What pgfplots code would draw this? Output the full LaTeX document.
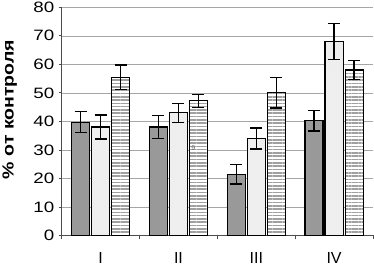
\documentclass[border=0pt]{standalone}
\usepackage{pgfplots}
\pgfplotsset{compat=1.18}
\usepackage{fontspec}
\setmainfont{Liberation Sans}
\newfontfamily\widefont[FakeStretch=1.25]{Liberation Sans}
\newfontfamily\labfont[FakeStretch=1.22]{Liberation Sans Bold}
\usetikzlibrary{patterns.meta}
\definecolor{darkbar}{HTML}{9A9A9A}
\definecolor{lightbar}{HTML}{F0F0F0}
\definecolor{stripe}{HTML}{A0A0A0}
\begin{document}
\begin{tikzpicture}
\begin{axis}[
  scale only axis,
  width=311pt, height=228pt,
  ybar, bar width=18pt,
  xmin=-0.5, xmax=3.5, ymin=0, ymax=80,
  axis lines=left,
  axis line style={-, line width=0.8pt, black!70},
  ytick={0,10,...,80},
  ymajorgrids,
  grid style={gray!70, line width=0.6pt},
  xtick={0,1,2,3},
  xticklabels={I,II,III,IV},
  major x tick style={draw=none},
  minor xtick={-0.5,0.5,1.5,2.5,3.5},
  minor x tick style={black!70, line width=0.8pt},
  minor tick length=4pt,
  y tick style={black!70, line width=0.8pt},
  major tick length=3pt,
  tick align=outside,
  yticklabel style={font=\widefont\fontsize{15}{16}\selectfont, anchor=east, xshift=-1pt},
  xticklabel style={font=\fontsize{16}{17}\selectfont, anchor=north, yshift=-10pt},
  /pgf/number format/assume math mode=true,
  error bars/y dir=both, error bars/y explicit,
  error bars/error mark options={rotate=90, mark size=6pt, line width=1.3pt, black},
  error bars/error bar style={line width=1.3pt, black},
]
\addplot[draw=black, line width=1.2pt, fill=darkbar,
  postaction={pattern={Dots[distance=2pt,radius=0.3pt]}, pattern color=gray!80}]
  coordinates {(0,39.7) +- (0,3.7) (1,38) +- (0,4) (2,21.5) +- (0,3.4) (3,40.2) +- (0,3.6)};
\addplot[draw=black, line width=1.2pt, fill=lightbar,
  postaction={pattern={Dots[distance=2pt,radius=0.3pt]}, pattern color=gray!25}]
  coordinates {(0,38) +- (0,4.2) (1,43) +- (0,3.3) (2,34) +- (0,3.7) (3,68) +- (0,6.3)};
\addplot[draw=black, line width=1.2pt, fill=white,
  postaction={pattern={Lines[distance=3.3pt,line width=1.6pt,angle=0]}, pattern color=stripe}]
  coordinates {(0,55.5) +- (0,4.3) (1,47.2) +- (0,2.3) (2,50) +- (0,5.3) (3,58) +- (0,3.3)};
\node[font=\fontsize{7}{8}\selectfont, gray!80!black] at (axis cs:1.19,30.7) {9};
\coordinate (o) at (rel axis cs:0,0);
\coordinate (t) at (rel axis cs:1,1);
\end{axis}
\path (o) ++(-52pt,125.9pt) node[rotate=90, font=\labfont\fontsize{16}{18}\selectfont] {\% от контроля};
\pgfresetboundingbox
\path[use as bounding box] ([xshift=-61.7pt,yshift=-29.7pt]o) rectangle ([xshift=1pt,yshift=7.3pt]t);
\end{tikzpicture}
\end{document}
